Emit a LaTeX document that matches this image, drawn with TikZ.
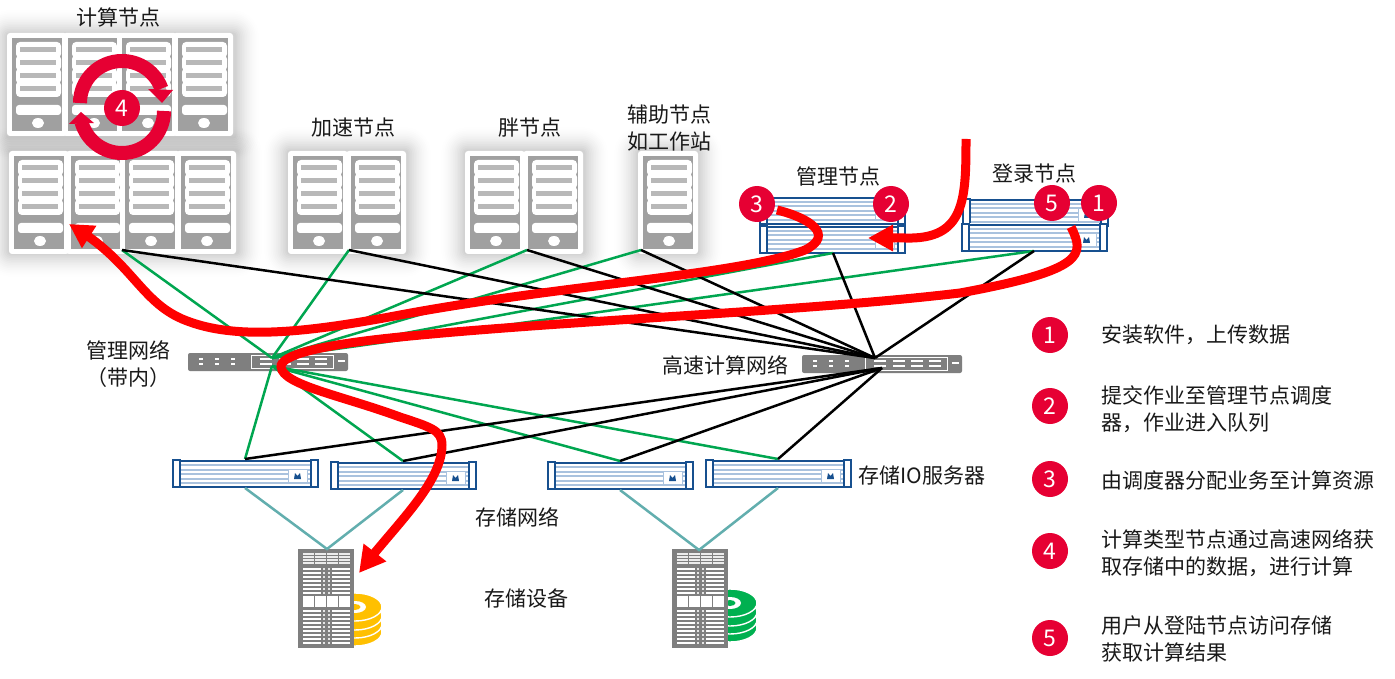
\documentclass[tikz,border=0pt]{standalone}
\usepackage{fontspec}
\setmainfont{Noto Sans CJK SC}
\usetikzlibrary{arrows.meta,bending}
\definecolor{badgered}{HTML}{E60033}
\definecolor{towergray}{HTML}{A0A0A0}
\definecolor{slotgray}{HTML}{B8B8B8}
\definecolor{hwblue}{HTML}{17508F}
\definecolor{hwlight}{HTML}{A9C2DE}
\definecolor{swgray}{HTML}{7F7F7F}
\definecolor{netgreen}{HTML}{00A650}
\definecolor{netteal}{HTML}{62AEAE}
\definecolor{diskyellow}{HTML}{FFC000}
\definecolor{diskgreen}{HTML}{00B050}
\newcommand{\glow}[4]{\foreach \i in {1,...,14}{\pgfmathsetmacro{\glowop}{.002+.0014*(15-\i)}\fill[black,opacity=\glowop,rounded corners={1.7*\i+2}] ({#1-1.7*\i},{#2-1.7*\i}) rectangle ({#3+1.7*\i},{#4+1.7*\i});}}
\tikzset{
  lbl/.style={font=\fontsize{21}{27}\selectfont,inner sep=0pt,text=black!90},
  legend/.style={lbl,anchor=west,align=left},
  badge/.style={circle,fill=badgered,text=white,minimum size=36pt,inner sep=0pt,font=\fontsize{23}{24}\selectfont},
  blackline/.style={black,line width=2.5pt},
  greenline/.style={netgreen,line width=2.5pt},
  tealline/.style={netteal,line width=2.5pt},
  redcurve/.style={red,line width=9pt},
  tower/.pic={
    \fill[white,rounded corners=3] (0,0) rectangle (60,103);
    \fill[towergray] (5,5) rectangle (55,98);
    \foreach \y in {9,22,35,48}{\fill[white,rounded corners=4] (9,\y) rectangle (54,\y+16);}
    \foreach \y in {14,27,40,53}{\fill[slotgray] (13,\y) rectangle (49,\y+5);}
    \fill[white,rounded corners=3] (9,72) rectangle (54,82);
    \fill[white] (31,90) ellipse (6 and 5);
  },
  server/.pic={
    \fill[white] (0,1) rectangle (145,30);
    \foreach \y in {7,11.5,16,20.5,25}{\draw[hwlight,line width=2pt] (8,\y) -- (138,\y);}
    \draw[hwblue,line width=1.4pt] (0,2) rectangle (7,29) (138,2) rectangle (145,29);
    \draw[hwblue,line width=2pt] (7,29) -- (138,29);
    \draw[hwblue,line width=2.6pt] (7,3) -- (138,3);
    \fill[white] (115,11) rectangle (134,24);
    \draw[hwlight,line width=.7pt] (115,11) rectangle (134,24);
    \fill[hwblue] (121,21) -- (122,15) -- (124.5,18) -- (127,15) -- (128,21) -- cycle;
  },
  switchbox/.pic={
    \fill[swgray,rounded corners=2] (0,0) rectangle (160,18);
    \foreach \x in {13,29,45}{\foreach \y in {6,11}{\fill[white] (\x-2,\y-1) rectangle (\x+2,\y+1);}}
    \draw[white,line width=1pt] (63,2) rectangle (145,15);
    \foreach \x in {78,97,115,133}{\foreach \y in {6,11}{\fill[white] (\x-6,\y-1) rectangle (\x+6,\y+1);}}
    \fill[white] (150,7) rectangle (157,9);
  },
  rack/.pic={
    \fill[swgray] (0,0) rectangle (56,99);
    \foreach \x in {5,17,29,41}{\foreach \y in {4,7,10,13}{\fill[white!85!gray] (\x,\y) rectangle (\x+10.5,\y+2);}}
    \foreach \y in {20,24,28,32,36,40,44, 62,66,70,74,78,82,86,90,94}{
      \fill[white] (5,\y-1) rectangle (23,\y+1);
      \fill[white] (34,\y-1) rectangle (52,\y+1);
      \fill[white!80!gray] (25,\y-1) rectangle (27,\y+1);
      \fill[white!80!gray] (30,\y-1) rectangle (32,\y+1);
    }
    \foreach \x in {5,17,29,41}{\fill[white] (\x,47) rectangle (\x+11,58);}
  },
  diskstack/.pic={
    \foreach \y in {25,17,9,0}{
      \fill[pic actions] (0,\y) ellipse (27 and 14);
      \draw[white,line width=1.4pt] (0,\y) ellipse (27 and 14);
    }
    \fill[white] (0,0) ellipse (11 and 6);
    \fill[pic actions] (0,0) ellipse (5.5 and 3);
  }
}
\begin{document}
\begin{tikzpicture}[x=1pt,y=-1pt]
\useasboundingbox (0,0) rectangle (1395,679);
\fill[white] (0,0) rectangle (1395,679);
% shadows
\glow{7}{34}{235}{137}
\glow{9}{151}{238}{253}
\glow{288}{151}{407}{253}
\glow{465}{151}{584}{253}
\glow{638}{151}{698}{253}
% towers
\foreach \x in {7,63,117,173}{\pic at (\x,33) {tower};}
\foreach \x in {9,66,120,176}{\pic at (\x,151) {tower};}
\foreach \x in {288,346,465,523,638}{\pic at (\x,151) {tower};}
% blue servers
\pic at (760,195) {server};
\pic at (760,224) {server};
\pic at (963,197) {server};
\pic at (962,222) {server};
\pic at (173,458) {server};
\pic at (331,460) {server};
\pic at (548,460) {server};
\pic at (706,458) {server};
% switches
\pic at (188,353) {switchbox};
\pic at (802,355) {switchbox};
% disks and racks
\pic[fill=diskyellow] at (355,607) {diskstack};
\pic[fill=diskgreen] at (730,603) {diskstack};
\pic at (298,549) {rack};
\pic at (672,549) {rack};
% connection points
\coordinate (computeB) at (122,250);
\coordinate (accelB) at (349,250);
\coordinate (fatB) at (527,250);
\coordinate (auxB) at (641,250);
\coordinate (mgmtB) at (833,253);
\coordinate (loginB) at (1034,251);
\coordinate (ioA) at (245,459);
\coordinate (ioB) at (403,461);
\coordinate (ioC) at (620,461);
\coordinate (ioD) at (778,459);
\coordinate (ioAb) at (245,488);
\coordinate (ioBb) at (403,490);
\coordinate (ioCb) at (620,490);
\coordinate (ioDb) at (778,488);
\coordinate (rackA) at (327,549);
\coordinate (rackB) at (699,550);
\coordinate (gsT) at (272,358);
\coordinate (gsB) at (272,366);
\coordinate (hsT) at (875,358);
\coordinate (hsB) at (882,368);
% green network
\foreach \t in {computeB,accelB,fatB,auxB,mgmtB,loginB}{\draw[greenline] (gsT) -- (\t);}
\foreach \t in {ioA,ioB,ioC,ioD}{\draw[greenline] (gsB) -- (\t);}
% black network
\foreach \t in {computeB,accelB,fatB,auxB,mgmtB,loginB}{\draw[blackline] (hsT) -- (\t);}
\foreach \t in {ioA,ioB,ioC,ioD}{\draw[blackline] (hsB) -- (\t);}
% storage network
\draw[tealline] (ioAb) -- (rackA) -- (ioBb);
\draw[tealline] (ioCb) -- (rackB) -- (ioDb);
% red flows
\coordinate (userIn) at (966,139);
\coordinate (mgmtIn) at (868,238);
\coordinate (s3) at (777,210);
\coordinate (computeIn) at (69,224);
\coordinate (s5) at (1071,227);
\coordinate (storeIn) at (359,573);
\draw[redcurve,-{Triangle[length=25pt,width=25pt,flex=1]}] (userIn) .. controls (966,200) and (965,240) .. (905,238) -- (mgmtIn);
\draw[redcurve,-{Triangle[length=24pt,width=25pt,flex=1]}] (s3) .. controls (810,218) and (835,235) .. (805,250)
  .. controls (740,275) and (560,285) .. (400,315)
  .. controls (310,332) and (240,340) .. (190,322)
  .. controls (140,305) and (135,262) .. (computeIn);
\draw[redcurve,-{Triangle[length=26pt,width=27pt,flex=1]}] (s5) .. controls (1085,255) and (1085,270) .. (960,293)
  .. controls (800,312) and (570,320) .. (400,337)
  .. controls (320,345) and (280,355) .. (281,367)
  .. controls (283,385) and (340,395) .. (400,417)
  .. controls (430,427) and (442,430) .. (442,445)
  .. controls (442,485) and (390,530) .. (storeIn);
% refresh cycle
\draw[badgered,line width=14pt] (80,103) arc[start angle=180,end angle=340,radius=42];
\fill[badgered] (148,89) -- (173,90) -- (162,103) -- cycle;
\draw[badgered,line width=14pt] (164,111) arc[start angle=0,end angle=165,radius=42];
\fill[badgered] (69,124) -- (94,123) -- (81,112) -- cycle;
% badges
\node[badge] (b4) at (122,108) {4};
\node[badge] (b3) at (757,204) {3};
\node[badge] (b2) at (891,204) {2};
\node[badge] (b5) at (1052,203) {5};
\node[badge] (b1) at (1099,203) {1};
\node[badge] (l1) at (1050,335) {1};
\node[badge] (l2) at (1050,406) {2};
\node[badge] (l3) at (1050,479) {3};
\node[badge] (l4) at (1050,551) {4};
\node[badge] (l5) at (1050,638) {5};
% labels
\node[lbl] (tCompute) at (118,17) {计算节点};
\node[lbl] (tAccel) at (353,128) {加速节点};
\node[lbl] (tFat) at (530,128) {胖节点};
\node[lbl,align=center] (tAux) at (669,128) {辅助节点\\如工作站};
\node[lbl] (tMgmt) at (838,176) {管理节点};
\node[lbl] (tLogin) at (1034,174) {登录节点};
\node[lbl,align=center] (tMnet) at (128,364) {管理网络\\（带内）};
\node[lbl] (tHnet) at (725,365) {高速计算网络};
\node[lbl] (tIO) at (922,476) {存储IO服务器};
\node[lbl] (tSnet) at (517,517) {存储网络};
\node[lbl] (tStore) at (526,599) {存储设备};
\node[legend] (d1) at (1101,335) {安装软件，上传数据};
\node[legend] (d2) at (1101,409) {提交作业至管理节点调度\\器，作业进入队列};
\node[legend] (d3) at (1101,480) {由调度器分配业务至计算资源};
\node[legend] (d4) at (1101,553) {计算类型节点通过高速网络获\\取存储中的数据，进行计算};
\node[legend] (d5) at (1101,639) {用户从登陆节点访问存储\\获取计算结果};
\end{tikzpicture}
\end{document}
